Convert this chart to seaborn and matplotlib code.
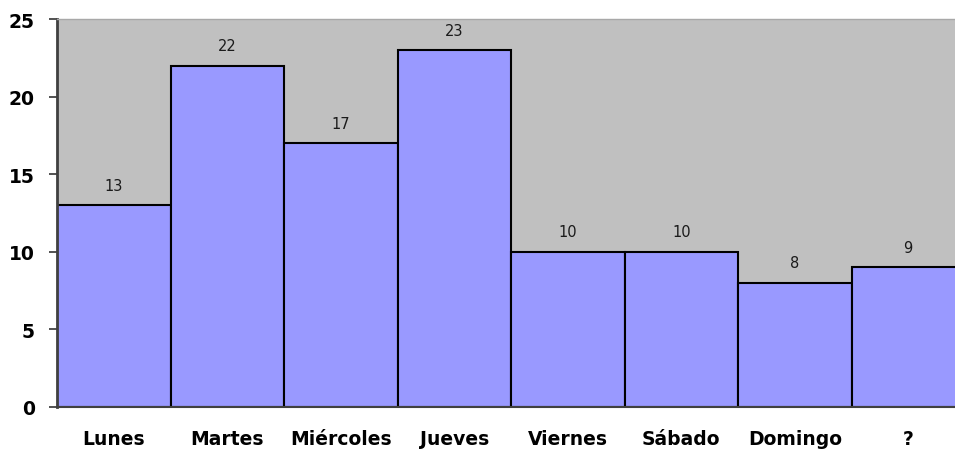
import numpy as np
import pandas as pd
import seaborn as sns
import matplotlib.pyplot as plt

dias = ['Lunes', 'Martes', 'Miércoles', 'Jueves', 'Viernes', 'Sábado', 'Domingo', '?']
valores = [13, 22, 17, 23, 10, 10, 8, 9]
yticks = [0, 5, 10, 15, 20, 25]

df = pd.DataFrame({'dia': dias, 'n': valores})

sns.set_style('white')
plt.rcParams['font.family'] = ['DejaVu Sans']

fig = plt.figure(figsize=(9.55, 4.56), dpi=100)
# plot area runs a little past the right edge of the picture, like the original
ax = fig.add_axes([57 / 955, 48 / 456, 908 / 955, 388 / 456])
ax.set_facecolor('#C0C0C0')

sns.barplot(data=df, x='dia', y='n', width=1.0, color='#9999FF', saturation=1,
            edgecolor='black', linewidth=1.5, ax=ax)

ax.bar_label(ax.containers[0], padding=9, fontsize=10.5, color='#1a1a1a')

ax.set_ylim(0, 25)
ax.set_xlim(-0.5, len(dias) - 0.5)
ax.set_yticks(yticks)
ax.set_yticklabels([str(t) for t in yticks], fontsize=13.5, fontweight='bold', color='black')
ax.set_xticks(range(len(dias)))
ax.set_xticklabels(dias, fontsize=13.5, fontweight='bold', color='black')
ax.set_xticks(np.arange(-0.5, len(dias)), minor=True)
ax.tick_params(axis='x', which='major', length=0, pad=16)
ax.tick_params(axis='x', which='minor', length=6, width=1.2, color='#333333', direction='out')
ax.tick_params(axis='y', length=6, width=1.2, color='#333333', direction='out', pad=10, left=True)
ax.set_xlabel('')
ax.set_ylabel('')

ax.spines['left'].set_color('#404040')
ax.spines['left'].set_linewidth(2)
ax.spines['bottom'].set_color('#404040')
ax.spines['bottom'].set_linewidth(1.5)
ax.spines['top'].set_color('#A8A8A8')
ax.spines['top'].set_linewidth(1)
ax.spines['right'].set_visible(False)

fig.savefig('out.png', dpi=100)
